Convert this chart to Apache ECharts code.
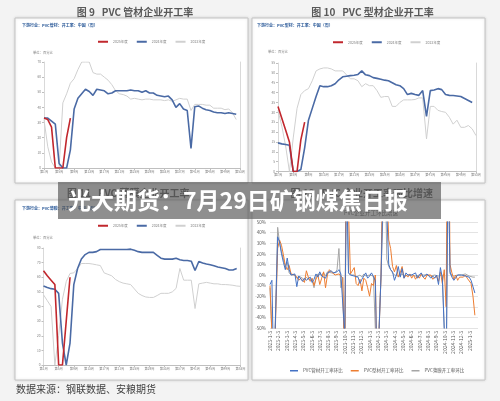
<!DOCTYPE html>
<html>
<head>
<meta charset="utf-8">
<script src="https://cdn.jsdelivr.net/npm/echarts@6/dist/echarts.min.js"></script>
<style>
html, body { margin: 0; padding: 0; background: #f3f3f3; }
#chart { width: 500px; height: 401px; }
</style>
</head>
<body>
<div id="chart"></div>
<script>
var FONT = '"Noto Sans CJK SC", "Noto Sans", sans-serif';

// 周度类目
var weekLabels = [];
for (var w = 1; w <= 53; w++) weekLabels.push('第' + w + '周');

var yearNames = ['2025年度', '2024年度', '2023年度'];

// 图9 PVC管材开工率
var pipe2025 = [33, 32, 27, 0, 0, 0, 20, 33];
var pipe2024 = [33, 33, 31, 29, 3, 0, 0, 12, 39, 46, 49, 52, 50.5, 48, 52, 51.5, 51, 49, 49.5, 51,
  51, 51, 51, 51.5, 51, 51, 50, 51, 49.5, 49.5, 48, 47.5, 47, 47.5, 45, 40, 42.5, 39, 38, 13,
  40.5, 41, 39.5, 38.5, 38, 37, 36.5, 36.5, 36, 36.5, 36, 35.5];
var pipe2023 = [32, 14, 4, 0, 0, 43, 49, 56, 59, 65, 70, 70, 70, 63, 62, 62, 60, 58, 55, 51,
  49, 48.5, 47.5, 45.5, 46, 45.5, 45, 45.5, 45.5, 45, 45, 45, 44.5, 45, 44, 45, 46, 45.5, 45.5, 38,
  42, 42, 42, 41.5, 41.5, 39.5, 39.5, 39.5, 38.5, 39, 36.5, 32];

// 图10 PVC型材开工率
var profile2025 = [33, 27, 21, 15, 0, 0, 16, 25];
var profile2024 = [14.5, 14, 13.7, 13.3, 0, 0, 1, 12, 26, 32, 38, 43.5, 43, 43, 43.5, 44.5, 46.5, 48, 48.3, 48.6,
  48.8, 49.2, 51, 49, 48.6, 47.6, 47.2, 46.8, 46.3, 46, 45, 44, 43.5, 42, 39, 39.6, 39, 38.6, 41, 28,
  41, 41.3, 42, 41.5, 39, 38.6, 38.5, 38.3, 38, 37, 36, 35];
var profile2023 = [31, 23, 13, 0, 17, 32, 39, 41, 42, 46, 51, 52, 52.5, 52.5, 52, 51, 51, 51, 49, 47,
  47, 46, 43, 44.5, 43.5, 43.5, 41, 37.6, 38, 38, 33, 33, 35, 36.3, 36.3, 36.3, 36.5, 37.3, 37.3, 16.5,
  33, 33, 31, 30.4, 30, 27.5, 24, 26, 22.4, 22.4, 23.3, 21.6, 18.2];

// 图11 PVC薄膜开工率
var film2025 = [64.5, 61, 58, 55, 0, 0, 30, 60];
var film2024 = [54, 53, 52.2, 51.8, 49, 15, 0, 15, 55, 66, 72.5, 75.5, 77, 77, 77.5, 79, 79, 79, 79, 79,
  79, 79, 79, 79.2, 78.4, 77.5, 77, 77, 77, 77, 75, 73, 72.4, 72.4, 72.4, 73, 72, 71.5, 71.5, 71,
  64.6, 70.8, 69.7, 69, 68.5, 67.8, 67, 66.5, 66, 65, 65, 66];
var film2023 = [48, 44, 40, 0, 20, 45, 57, 62.6, 63, 66, 69.4, 69.4, 69.4, 69, 68.5, 68, 63, 62, 61, 58.5,
  57, 56, 55.5, 55, 52, 49, 47.5, 46.5, 46.2, 46.2, 47.5, 49, 49, 49, 50, 52.4, 66, 58, 58, 58,
  38.6, 55.5, 56, 56.5, 56, 55.5, 55.5, 55, 55, 54.8, 54.5, 54, 53.8];

// 图12 环比增速（%），周度
var monthLabels = ['2023-1-3', '2023-2-3', '2023-3-3', '2023-4-3', '2023-5-3', '2023-6-3', '2023-7-3',
  '2023-8-3', '2023-9-3', '2023-10-3', '2023-11-3', '2023-12-3', '2024-1-3', '2024-2-3', '2024-3-3',
  '2024-4-3', '2024-5-3', '2024-6-3', '2024-7-3', '2024-8-3', '2024-9-3', '2024-10-3', '2024-11-3',
  '2024-12-3', '2025-1-3'];
var momNames = ['PVC管材开工率环比', 'PVC型材开工率环比', 'PVC薄膜开工率环比'];
var momPipe = [-9, -5, -100, -100, 36, 31, 20, 12, 5, 16, 5, 0, 0, 1, -11, -1, -2, -6, -3, -5,
  -4, -2, -7, -4, 1, -2, 3, -1, 0, -3, 2, 1, 4, 2, 1, 3, 5, 1, 0, -55,
  90, 2, 0, 1, -1, 0, -2, -8, -4, -1, 2, -3, -1, 2, 3, -5, -100, -100, 0, 0,
  150, 60, 10, 5, 3, -5, 0, 8, -2, 6, -3, 2, 0, -1, 0, -1, 2, -3, 0, 2,
  -2, -1, 1, 0, -3, -1, -3, 0, -9, 7, -3, -2, -100, 120, 3, -2, -5, -4, 0, -1,
  0, 1, -1, 0, -2, -5, -6, -17];
var momProfile = [-10, -11, -100, -100, 25, 33, 28, 19, 9, 5, 9, 1, 1, 0, -2, -5, -3, -4, -7, 4,
  -2, -6, -3, -10, -4, 0, -9, -3, 3, -12, 0, 5, 3, 2, 0, 1, 1, -1, -3, -100,
  200, 60, 1, 0, 7, -8, -10, -4, -15, -3, -5, -12, -20, -8, -10, 0, -100, -100, 0, 0,
  250, 90, 33, 25, 8, 3, 9, -2, 2, 8, -3, 0, -2, 1, -3, 0, -4, -1, -3, 1,
  -2, -4, 0, -1, 0, -4, -3, -1, -6, 3, -8, 5, -30, 250, 10, 2, -4, 0, -5, -2,
  -1, -2, 0, -3, -3, -8, -20, -38];
var momFilm = [-12, -12, -100, -100, 45, 30, 22, 15, 8, 12, 2, 0, 0, 0, -3, -1, -2, -3, -5, -2,
  -4, -3, -5, -12, -2, 1, 0, 0, 2, -1, 3, 4, 2, 3, 2, 5, 25, -12, -2, -100,
  120, 2, 0, 1, 0, -2, -3, 0, -2, 1, -1, -2, 0, 1, -1, 0, -100, -100, 0, 0,
  120, 15, 8, 5, 2, 0, 1, -1, 0, 1, -1, 0, 0, -1, 0, 1, -1, 0, 0, -1,
  0, 1, 0, 0, -1, 0, 0, 1, -1, 0, 0, 1, -100, 120, 1, 0, -1, 0, 0, -1,
  0, 0, 1, 0, -1, -1, -2, -2];

var WEEKS_PER_MONTH = 4.345;
var yearColors = ['#c1272d', '#4a6aa5', '#d0d0d0'];
var momColors = ['#4472c4', '#ed7d31', '#a5a5a5'];

function weekAxis(gridIndex) {
  return {
    type: 'category', gridIndex: gridIndex, data: weekLabels, boundaryGap: false,
    axisLine: { lineStyle: { color: '#bfbfbf', width: 1 } },
    axisTick: { show: true, interval: 3, length: 2, lineStyle: { color: '#bfbfbf' } },
    axisLabel: { interval: 3, fontSize: 3.2, color: '#7f7f7f', margin: 2, fontFamily: FONT }
  };
}
function leftAxis(gridIndex, max, step) {
  return {
    type: 'value', gridIndex: gridIndex, min: 0, max: max, interval: step,
    splitLine: { show: false },
    axisLine: { show: true, lineStyle: { color: '#d9d9d9' } },
    axisTick: { show: true, length: 2, lineStyle: { color: '#bfbfbf' } },
    axisLabel: { fontSize: 3.2, color: '#7f7f7f', margin: 3, fontFamily: FONT }
  };
}
function rightAxis(gridIndex) {
  return {
    type: 'value', gridIndex: gridIndex, position: 'right',
    axisLine: { show: true, lineStyle: { color: '#d9d9d9' } },
    axisTick: { show: false }, axisLabel: { show: false }, splitLine: { show: false }
  };
}
function yearLine(name, data, color, width, axis, z) {
  return {
    name: name, type: 'line', xAxisIndex: axis, yAxisIndex: axis * 2, data: data,
    symbol: 'none', z: z, color: color,
    lineStyle: { color: color, width: width }
  };
}
function momLine(name, data, color, z) {
  return {
    name: name, type: 'line', xAxisIndex: 3, yAxisIndex: 6, clip: true,
    data: data.map(function (v, i) { return [i, v]; }),
    symbol: 'none', z: z, color: color,
    lineStyle: { color: color, width: 1 }
  };
}
function yearLegend(left, top) {
  return {
    left: left, top: top, padding: 0, itemWidth: 10, itemHeight: 2, itemGap: 9, icon: 'rect',
    data: yearNames, textStyle: { fontSize: 3.5, color: '#7f7f7f', fontFamily: FONT }
  };
}
function txt(x, y, text, size, color, opts) {
  opts = opts || {};
  return {
    type: 'text', x: x, y: y, z: opts.z || 1,
    style: {
      text: text, fill: color,
      font: (opts.bold ? 'bold ' : '') + size + 'px ' + FONT,
      textAlign: opts.align || 'left', textVerticalAlign: 'middle'
    }
  };
}
function panel(x, y, w, h) {
  return {
    type: 'rect', z: -10, shape: { x: x, y: y, width: w, height: h },
    style: { fill: '#ffffff', stroke: '#c4c4c4', lineWidth: 1, shadowBlur: 3, shadowColor: 'rgba(0,0,0,0.12)' }
  };
}

var chart = echarts.init(document.getElementById('chart'), null, { renderer: 'canvas' });

var subColor = '#2e5c9a';
chart.setOption({
  backgroundColor: '#f3f3f3',
  animation: false,
  textStyle: { fontFamily: FONT },
  grid: [
    { left: 44, top: 62, width: 196, height: 106, outerBoundsMode: 'none' },
    { left: 278, top: 63, width: 198, height: 108.5, outerBoundsMode: 'none' },
    { left: 43.5, top: 248, width: 197, height: 117, outerBoundsMode: 'none' },
    { left: 270, top: 222, width: 208, height: 106, outerBoundsMode: 'none' }
  ],
  xAxis: [
    weekAxis(0), weekAxis(1), weekAxis(2),
    {
      type: 'value', gridIndex: 3, min: 0, max: WEEKS_PER_MONTH * 25, interval: WEEKS_PER_MONTH,
      splitLine: { show: false }, axisLine: { show: false }, axisTick: { show: false },
      axisLabel: {
        rotate: 90, fontSize: 5, color: '#595959', margin: 3, fontFamily: FONT,
        showMaxLabel: false, showMinLabel: true,
        formatter: function (v) { return monthLabels[Math.round(v / WEEKS_PER_MONTH)] || ''; }
      }
    }
  ],
  yAxis: [
    leftAxis(0, 70, 10), rightAxis(0),
    leftAxis(1, 55, 5), rightAxis(1),
    leftAxis(2, 80, 10), rightAxis(2),
    {
      type: 'value', gridIndex: 3, min: -50, max: 50, interval: 10,
      axisLine: { show: false }, axisTick: { show: false },
      splitLine: { show: true, lineStyle: { color: '#e3e3e3', width: 1 } },
      axisLabel: { formatter: '{value}%', fontSize: 4.5, color: '#595959', margin: 4, fontFamily: FONT }
    }
  ],
  legend: [
    yearLegend(98, 40),
    yearLegend(333, 40.5),
    yearLegend(98, 224),
    {
      left: 290, top: 368.5, padding: 0, itemWidth: 8, itemHeight: 1.5, itemGap: 8, icon: 'rect',
      data: momNames, textStyle: { fontSize: 4.5, color: '#595959', fontFamily: FONT }
    }
  ],
  series: [
    yearLine(yearNames[2], pipe2023, yearColors[2], 1, 0, 2),
    yearLine(yearNames[1], pipe2024, yearColors[1], 1.6, 0, 3),
    yearLine(yearNames[0], pipe2025, yearColors[0], 1.6, 0, 4),
    yearLine(yearNames[2], profile2023, yearColors[2], 1, 1, 2),
    yearLine(yearNames[1], profile2024, yearColors[1], 1.6, 1, 3),
    yearLine(yearNames[0], profile2025, yearColors[0], 1.6, 1, 4),
    yearLine(yearNames[2], film2023, yearColors[2], 1, 2, 2),
    yearLine(yearNames[1], film2024, yearColors[1], 1.6, 2, 3),
    yearLine(yearNames[0], film2025, yearColors[0], 1.6, 2, 4),
    momLine(momNames[0], momPipe, momColors[0], 4),
    momLine(momNames[1], momProfile, momColors[1], 3),
    momLine(momNames[2], momFilm, momColors[2], 2)
  ],
  graphic: [
    panel(15, 18, 233, 165),
    panel(252, 18, 233, 165),
    panel(15, 200, 233, 180),
    panel(252, 200, 233, 180),
    txt(135, 12, '图 9   PVC 管材企业开工率', 10, '#595959', { bold: true, align: 'center' }),
    txt(372.5, 12, '图 10   PVC 型材企业开工率', 10, '#595959', { bold: true, align: 'center' }),
    txt(67, 193, '图 11   PVC 薄膜企业开工率', 10, '#595959', { bold: true }),
    txt(433, 193, '图 12   PVC 企业开工率环比增速', 10, '#595959', { bold: true, align: 'right' }),
    txt(22, 25, '下游行业：PVC管材：开工率：中国（周）', 4, subColor, { bold: true }),
    txt(257, 25, '下游行业：PVC型材：开工率：中国（周）', 4, subColor, { bold: true }),
    txt(22, 208, '下游行业：PVC薄膜：开工率：中国（周）', 4, subColor, { bold: true }),
    txt(33, 53, '单位：百分比', 3.3, '#7f7f7f'),
    txt(268, 52, '单位：百分比', 3.3, '#7f7f7f'),
    txt(33, 238, '单位：百分比', 3.3, '#7f7f7f'),
    txt(371, 212.5, 'PVC企业开工环比增速', 5.5, '#595959', { align: 'center' }),
    txt(16, 389, '数据来源：钢联数据、安粮期货', 10, '#404040'),
    {
      type: 'rect', z: 100, shape: { x: 58, y: 182, width: 383, height: 37 },
      style: { fill: 'rgba(85,85,85,0.66)' }
    },
    txt(68, 200.5, '光大期货：7月29日矿钢煤焦日报', 23, '#ffffff', { bold: true, z: 101 })
  ]
});
</script>
</body>
</html>
